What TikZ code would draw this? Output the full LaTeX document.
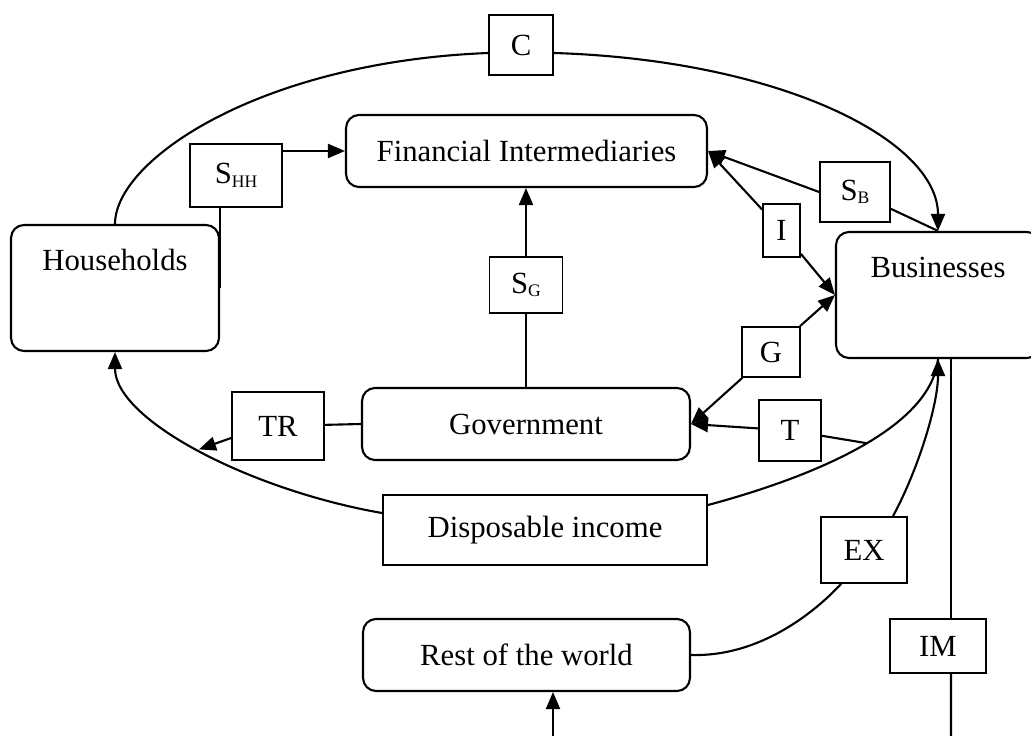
\documentclass[tikz,border=0pt]{standalone}
\usepackage{fontspec}
\setmainfont{Liberation Serif}
\usepackage{tikz}
\usetikzlibrary{arrows.meta}
\tikzstyle{diagram} = [x = 0.02cm, y = -0.02cm, line width = 1.2pt, font = \fontsize{17.5}{20}\selectfont]
\tikzstyle{sectorStyle} = [draw, rounded corners = .26cm, inner sep = 0pt, line width = 1.2pt]
\tikzstyle{incomeStyle} = [draw, inner sep = 0pt, line width = 1.2pt]
\tikzstyle{flowBox} = [draw, inner sep = 0pt, line width = 1pt]
\tikzstyle{flowArrow} = [-{Triangle[length = .34cm, width = .28cm]}]
\newcommand{\flowSub}[1]{\raisebox{-.25ex}{\fontsize{10}{10}\selectfont #1}}

\begin{document}
\begin{tikzpicture}[diagram]
  \useasboundingbox (0,0) rectangle (1031,736);
  % sectors
  \node [sectorStyle, minimum width = 4.16cm, minimum height = 2.52cm, text height = .9cm, text depth = 1.62cm] (households) at (115,288) {Households};
  \node [sectorStyle, minimum width = 4.08cm, minimum height = 2.52cm, text height = .9cm, text depth = 1.62cm] (businesses) at (938,295) {Businesses};
  \node [sectorStyle, minimum width = 7.22cm, minimum height = 1.44cm] (financial) at (526.5,151) {Financial Intermediaries};
  \node [sectorStyle, minimum width = 6.56cm, minimum height = 1.44cm] (government) at (526,424) {Government};
  \node [sectorStyle, minimum width = 6.54cm, minimum height = 1.44cm] (rest) at (526.5,655) {Rest of the world};
  \node [incomeStyle, minimum width = 6.48cm, minimum height = 1.4cm] (disposable) at (545,530) {Disposable income};
  % flows
  \node [flowBox, minimum width = 1.28cm, minimum height = 1.2cm] (cBox) at (521,45) {C};
  \node [flowBox, minimum width = 1.84cm, minimum height = 1.26cm] (sHH) at (236,175.5) {S\flowSub{HH}};
  \node [flowBox, minimum width = 1.46cm, minimum height = 1.12cm] (sG) at (526,285) {S\flowSub{G}};
  \node [flowBox, minimum width = 1.4cm, minimum height = 1.2cm] (sB) at (855,192) {S\flowSub{B}};
  \node [flowBox, minimum width = .74cm, minimum height = 1.06cm] (iBox) at (781.5,230.5) {I};
  \node [flowBox, minimum width = 1.16cm, minimum height = 1cm] (gBox) at (771,352) {G};
  \node [flowBox, minimum width = 1.84cm, minimum height = 1.36cm] (trBox) at (278,426) {TR};
  \node [flowBox, minimum width = 1.24cm, minimum height = 1.22cm] (tBox) at (790,430.5) {T};
  \node [flowBox, minimum width = 1.72cm, minimum height = 1.32cm] (exBox) at (864,550) {EX};
  \node [flowBox, minimum width = 1.92cm, minimum height = 1.08cm] (imBox) at (938,646) {IM};
  \coordinate (imEnd) at (951,736);
  \coordinate (restEnd) at (553,736);

  % consumption
  \draw (households.north) .. controls (115,160) and (260,62) .. ([yshift = -.16cm]cBox.west);
  \draw [flowArrow] ([yshift = -.16cm]cBox.east) .. controls (780,60) and (938,140) .. (businesses.north);
  % savings and investment
  \draw (households.east |- sHH.south) -- (households.east);
  \draw [flowArrow] (sHH.east |- financial.west) -- (financial.west);
  \draw (government.north) -- (sG.south);
  \draw [flowArrow] (sG.north) -- (sG.north |- financial.south);
  \draw (businesses.north) -- (sB);
  \draw [flowArrow] (sB.west) -- (financial.east);
  \draw [flowArrow] (iBox) -- (financial.east);
  \draw [flowArrow] (iBox) -- (businesses.west);
  % government
  \draw [flowArrow] (gBox) -- (businesses.west);
  \draw [flowArrow] (gBox) -- (government.east);
  \draw [flowArrow] ([yshift = .34cm]disposable.west) .. controls (250,490) and (115,420) .. (households.south) coordinate [pos = .5] (trEnd);
  \draw (government.west) -- (trBox);
  \draw [flowArrow] ([yshift = -.24cm]trBox.west) -- (trEnd);
  \draw ([yshift = .5cm]disposable.east) .. controls (790,483) and (930,435) .. (businesses.south) coordinate [pos = .56] (tEnd);
  \draw (tEnd) -- (tBox);
  \draw [flowArrow] (tBox) -- (government.east);
  % foreign trade
  \draw (rest.east) .. controls (760,657) and (815,612) .. ([xshift = .42cm]exBox.south west);
  \draw [flowArrow] ([xshift = .58cm]exBox.north) .. controls (918,470) and (938,405) .. (businesses.south);
  \draw ([xshift = .26cm]businesses.south) -- ([xshift = .26cm]imBox.north);
  \draw ([xshift = .26cm]imBox.south) -- (imEnd);
  \draw [flowArrow] (restEnd) -- (restEnd |- rest.south);
\end{tikzpicture}
\end{document}
